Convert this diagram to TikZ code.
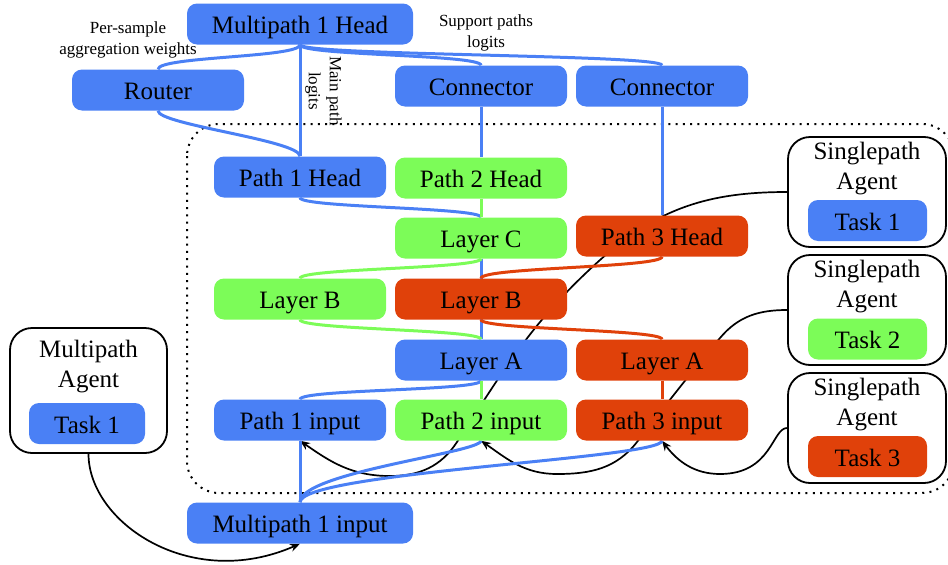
\documentclass[tikz,border=0pt]{standalone}
\usepackage{fontspec}
\setmainfont{Liberation Serif}
\usetikzlibrary{arrows.meta,calc}
\definecolor{pblue}{RGB}{74,128,245}
\definecolor{pgreen}{RGB}{124,252,88}
\definecolor{pred}{RGB}{224,65,10}
\pgfdeclarelayer{bg}
\pgfsetlayers{bg,main}

\begin{document}
\begin{tikzpicture}[x=1pt,y=1pt,
  blk/.style={rounded corners=10pt, minimum height=41pt, minimum width=172pt,
    inner sep=0pt, text height=24pt, text depth=5pt, text=black,
    font=\fontsize{25}{30}\selectfont},
  bluebox/.style={blk, fill=pblue},
  greenbox/.style={blk, fill=pgreen},
  redbox/.style={blk, fill=pred},
  widebox/.style={bluebox, minimum width=226pt},
  agent/.style={draw=black, line width=1.8pt, rounded corners=22pt, fill=white},
  agenttitle/.style={align=center, inner sep=0pt, font=\fontsize{25}{30}\selectfont},
  note/.style={align=center, inner sep=0pt, font=\fontsize{17}{21}\selectfont},
  wire/.style={line width=3pt},
  bw/.style={wire, draw=pblue},
  gw/.style={wire, draw=pgreen},
  rw/.style={wire, draw=pred},
  feed/.style={line width=1.7pt, draw=black, -{Stealth[length=10pt,width=8pt]}},
  region/.style={draw=black, line width=2pt, dash pattern=on 2pt off 5.3pt, rounded corners=32pt},
]
\useasboundingbox (0,0) rectangle (948,-565);

% ---- blocks ----
\node[widebox] (mh) at (300,-24) {Multipath 1 Head};
\node[bluebox] (router) at (158,-90) {Router};
\node[bluebox] (con1) at (481,-86) {Connector};
\node[bluebox] (con2) at (662,-86) {Connector};

\node[bluebox]  (p1h) at (300,-177) {Path 1 Head};
\node[greenbox] (p2h) at (481,-178) {Path 2 Head};
\node[greenbox] (lc)  at (481,-238) {Layer C};
\node[redbox]   (p3h) at (662,-236) {Path 3 Head};
\node[greenbox] (lbg) at (300,-299) {Layer B};
\node[redbox]   (lbr) at (481,-299) {Layer B};
\node[bluebox]  (laa) at (481,-360) {Layer A};
\node[redbox]   (lar) at (662,-360) {Layer A};
\node[bluebox]  (p1in) at (300,-420) {Path 1 input};
\node[greenbox] (p2in) at (481,-420) {Path 2 input};
\node[redbox]   (p3in) at (662,-420) {Path 3 input};
\node[widebox] (mi) at (300,-523) {Multipath 1 input};

% ---- agents ----
\node[agent, minimum width=157pt, minimum height=125pt] (ma) at (88.5,-390.5) {};
\node[agenttitle] (matitle) at (88.5,-367) {Multipath\\Agent};
\node[bluebox, minimum width=116pt] (matask) at (87,-423.5) {Task 1};

\node[agent, minimum width=158pt, minimum height=110pt] (sa1) at (867,-192) {};
\node[agenttitle] (sa1title) at (867,-169) {Singlepath\\Agent};
\node[bluebox, minimum width=119pt] (sa1task) at (867.5,-220.5) {Task 1};

\node[agent, minimum width=158pt, minimum height=110pt] (sa2) at (867,-310) {};
\node[agenttitle] (sa2title) at (867,-287) {Singlepath\\Agent};
\node[greenbox, minimum width=119pt] (sa2task) at (867.5,-339) {Task 2};

\node[agent, minimum width=158pt, minimum height=110pt] (sa3) at (867,-428) {};
\node[agenttitle] (sa3title) at (867,-405) {Singlepath\\Agent};
\node[redbox, minimum width=119pt] (sa3task) at (867.5,-456.5) {Task 3};

% ---- annotations ----
\node[note] (lblweights) at (128,-39.5) {Per-sample\\aggregation weights};
\node[note] (lblsupport) at (486,-32.5) {Support paths\\logits};
\node[note, rotate=-90] (lblmain) at (323.5,-91) {Main path\\logits};

\begin{pgfonlayer}{bg}
  % shared region of the multipath
  \begin{scope}
    \clip (0,0) rectangle (948,-565);
    \draw[region] (187,-124) rectangle (954,-493);
  \end{scope}

  % task feeds
  \draw[feed] (ma.south) .. controls (88.5,-522) and (190,-592) .. (mi.south);
  \draw[feed] (sa1.west) to[out=180,in=42] (600,-260) to[out=222,in=57] (457,-442)
              to[out=237,in=0] (390,-476) to[out=180,in=-35] (p1in.south);
  \draw[feed] (sa2.west) to[out=180,in=50] (720,-338) to[out=230,in=52] (637,-442)
              to[out=232,in=0] (557,-474) to[out=180,in=-35] (p2in.south);
  \draw[feed] (sa3.west) .. controls (772,-428) and (772,-474) .. (720,-474)
              .. controls (695,-474) and (678,-462) .. (p3in.south);

  % head side
  \draw[bw] (mh.south) .. controls +(0,-13) and +(0,13) .. (router.north);
  \draw[bw] (mh.south) -- (p1h.north);
  \draw[bw] (mh.south) .. controls +(0,-11) and +(0,11) .. (con1.north);
  \draw[bw] (mh.south) .. controls +(0,-11) and +(0,11) .. (con2.north);
  \draw[bw] (router.south) .. controls +(0,-14) and +(0,16) .. (p1h.north);
  \draw[bw] (con1.south) -- (p2h.north);
  \draw[bw] (con2.south) -- (p3h.north);

  % layers
  \draw[bw] (p1h.south) .. controls +(0,-10) and +(0,10) .. (lc.north);
  \draw[gw] (p2h.south) -- (lc.north);
  \draw[bw] (lc.south) -- (laa.north);
  \draw[gw] (lc.south) .. controls +(0,-10) and +(0,10) .. (lbg.north);
  \draw[rw] (p3h.south) .. controls +(0,-11) and +(0,11) .. (lbr.north);
  \draw[gw] (lbg.south) .. controls +(0,-10) and +(0,10) .. (laa.north);
  \draw[rw] (lbr.south) .. controls +(0,-10) and +(0,10) .. (lar.north);
  \draw[bw] (laa.south) .. controls +(0,-10) and +(0,10) .. (p1in.north);
  \draw[gw] (laa.south) -- (p2in.north);
  \draw[rw] (lar.south) -- (p3in.north);

  % inputs
  \draw[bw] (p1in.south) -- (mi.north);
  \draw[bw] (p2in.south) .. controls +(0,-12) and +(0,30) .. (mi.north);
  \draw[bw] (p3in.south) .. controls +(0,-18) and +(0,30) .. (mi.north);
\end{pgfonlayer}
\end{tikzpicture}
\end{document}
